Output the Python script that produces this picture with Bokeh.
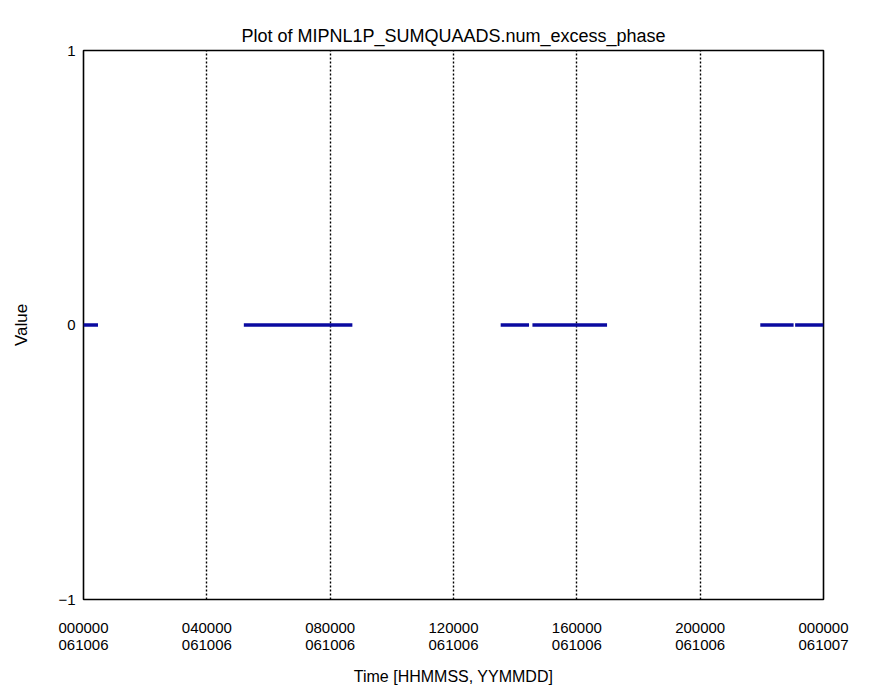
from bokeh.plotting import figure
from bokeh.models import Range1d, FixedTicker, ColumnDataSource
from bokeh.embed import file_html
from bokeh.resources import INLINE

# Data: segments where num_excess_phase was recorded (hours since 000000 061006), value 0
seg_start = [0.0, 5.2, 13.53, 14.56, 21.95, 23.08]
seg_end = [0.47, 8.72, 14.45, 16.98, 23.03, 24.0]
seg_value = [0, 0, 0, 0, 0, 0]

x_tick_hours = [0, 4, 8, 12, 16, 20, 24]
x_tick_labels = ["000000\n061006", "040000\n061006", "080000\n061006", "120000\n061006",
                 "160000\n061006", "200000\n061006", "000000\n061007"]
grid_hours = [4, 8, 12, 16, 20]
y_ticks = [-1, 0, 1]
y_tick_labels = ["\u22121", "0", "1"]

FONT = "Liberation Sans"

p = figure(width=857, height=693, output_backend="svg", toolbar_location=None,
           x_range=Range1d(0, 24), y_range=Range1d(-1, 1),
           title="Plot of MIPNL1P_SUMQUAADS.num_excess_phase",
           min_border_left=83, min_border_right=34, min_border_top=50, min_border_bottom=94)

p.title.align = "center"
p.title.text_font = FONT
p.title.text_font_size = "18px"
p.title.text_font_style = "normal"
p.title.text_color = "black"
p.title.offset = 0

p.outline_line_color = "black"
p.outline_line_width = 1.6
p.outline_line_alpha = 1.0
p.background_fill_color = "white"
p.border_fill_color = "white"

# x axis
p.xaxis.ticker = FixedTicker(ticks=x_tick_hours)
p.xaxis.major_label_overrides = {h: lab for h, lab in zip(x_tick_hours, x_tick_labels)}
p.xaxis.axis_label = "Time [HHMMSS, YYMMDD]"
p.xaxis.axis_line_color = None
p.xaxis.major_tick_line_color = None
p.xaxis.minor_tick_line_color = None
p.xaxis.major_tick_out = 0
p.xaxis.minor_tick_out = 0
p.xaxis.major_label_text_font = FONT
p.xaxis.major_label_text_font_size = "15px"
p.xaxis.major_label_text_line_height = 1.0
p.xaxis.major_label_text_color = "black"
p.xaxis.major_label_standoff = 19
p.xaxis.axis_label_text_font = FONT
p.xaxis.axis_label_text_font_size = "16px"
p.xaxis.axis_label_text_font_style = "normal"
p.xaxis.axis_label_text_color = "black"
p.xaxis.axis_label_standoff = 12

# y axis
p.yaxis.ticker = FixedTicker(ticks=y_ticks)
p.yaxis.major_label_overrides = {t: lab for t, lab in zip(y_ticks, y_tick_labels)}
p.yaxis.axis_label = "Value"
p.yaxis.axis_line_color = None
p.yaxis.major_tick_line_color = None
p.yaxis.minor_tick_line_color = None
p.yaxis.major_tick_out = 0
p.yaxis.minor_tick_out = 0
p.yaxis.major_label_text_font = FONT
p.yaxis.major_label_text_font_size = "15px"
p.yaxis.major_label_text_color = "black"
p.yaxis.major_label_standoff = 8
p.yaxis.axis_label_text_font = FONT
p.yaxis.axis_label_text_font_size = "17px"
p.yaxis.axis_label_text_font_style = "normal"
p.yaxis.axis_label_text_color = "black"
p.yaxis.axis_label_standoff = 24

# grids: dotted vertical lines only
p.ygrid.grid_line_color = None
p.xgrid.ticker = FixedTicker(ticks=grid_hours)
p.xgrid.grid_line_color = "black"
p.xgrid.grid_line_dash = "2 2"
p.xgrid.grid_line_width = 1.4

src = ColumnDataSource(dict(x0=seg_start, x1=seg_end, y0=seg_value, y1=seg_value))
p.segment(x0="x0", y0="y0", x1="x1", y1="y1", source=src,
          line_color="#0a0aa0", line_width=3.5)

open("out.html", "w").write(file_html(p, INLINE))
